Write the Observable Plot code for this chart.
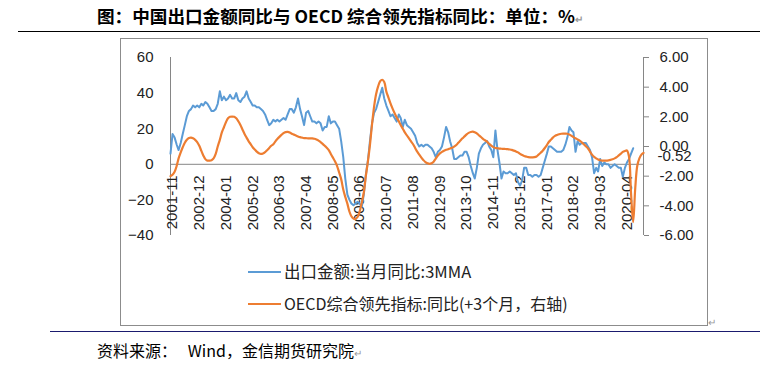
<!DOCTYPE html>
<html><head><meta charset="utf-8">
<script src="https://cdn.jsdelivr.net/npm/d3@7"></script>
<script src="https://cdn.jsdelivr.net/npm/@observablehq/plot@0.6"></script>
<style>
html,body{margin:0;padding:0;background:#fff;}
body{width:760px;height:369px;position:relative;overflow:hidden;font-family:"Noto Sans CJK SC",sans-serif;color:#000;}
.abs{position:absolute;white-space:nowrap;}
#title{left:97px;top:4px;font-weight:bold;font-size:17.6px;line-height:24px;}
#rule1{left:18px;top:31px;width:742px;height:0;border-top:1.5px solid #000;}
#box{left:120px;top:38px;width:586px;height:286px;border:1px solid #8c8c8c;}
#chart{left:120px;top:38px;}
.legline{height:0;width:33px;border-top:2px solid;}
.legtxt{font-size:16px;line-height:20px;color:#222;}
#rule2{left:50px;top:331px;width:710px;height:0;border-top:1px solid #1a1a6e;}
#caption{left:97px;top:340px;font-size:16px;line-height:20px;}
.mark{font-size:10px;color:#999;}
</style></head>
<body>
<div id="title" class="abs">图：中国出口金额同比与 OECD 综合领先指标同比：单位：%<span class="mark">↵</span></div>
<div id="rule1" class="abs"></div>
<div id="box" class="abs"></div>
<div id="chart" class="abs"></div>
<div class="abs legline" style="left:248px;top:271px;border-color:#5B9BD5"></div>
<div class="abs legtxt" id="leg1" style="left:284px;top:261px;font-size:16.5px">出口金额:当月同比:3MMA</div>
<div class="abs legline" style="left:248px;top:303px;border-color:#ED7D31"></div>
<div class="abs legtxt" id="leg2" style="left:284px;top:293px">OECD综合领先指标:同比(+3个月，右轴)</div>
<div class="abs mark" style="left:708px;top:314px">↵</div>
<div id="rule2" class="abs"></div>
<div id="caption" class="abs">资料来源：&nbsp;&nbsp; Wind，金信期货研究院<span class="mark">↵</span></div>
<script>
// Categories: monthly, 2001-11 .. 2021-01
const months = d3.utcMonth.range(new Date(Date.UTC(2001, 10, 1)), new Date(Date.UTC(2021, 1, 1)));
const xTickLabels = ["2001-11","2002-12","2004-01","2005-02","2006-03","2007-04","2008-05","2009-06","2010-07","2011-08","2012-09","2013-10","2014-11","2015-12","2017-01","2018-02","2019-03","2020-04"];
const leftTicks = [-40, -20, 0, 20, 40, 60];
const rightTicks = [-6, -4, -2, 0, 2, 4, 6];
const rightExtraLabel = "-0.52";

// 出口金额:当月同比:3MMA (left axis, %), 2001-11 .. 2020-08
const exportYoY3MMA = [
 6,17,15,11,8,12,17,22,27,30,
 31,33,32,33,32,34,33,35,34,32,
 30,30,31,34,41,36,38,36,37,39,
 37,37,40,36,35,37,38,41,37,35,
 33,33,32,32,31,30,28,25,22,23,
 25,24,25,24,25,26,25,28,31,31,
 29,32,37,31,27,22,29,30,27,24,
 24,23,24,23,19,21,21,27,23,24,
 24,22,20,13,4,-8,-17,-20,-22,-23,
 -22,-21,-22,-24,-17,-6,2,13,23,29,
 31,35,39,43,37,33,30,27,28,26,
 24,28,26,21,25,22,21,20,18,16,
 12,10,11,10,11,11,10,9,7,4,
 7,8,10,15,21,18,13,9,3,3,
 4,5,5,7,7,4,-1,-5,-8,-2,
 6,9,11,12,13,10,8,4,19,8,
 1,-8,-4,-5,-5,-4,-5,-6,-5,-10,
 -12,-9,-2,-2,-6,-6,-7,-6,-6,-7,
 -6,-2,2,6,10,10,9,8,7,7,
 7,8,11,15,21,19,18,7,13,11,
 12,12,12,10,8,4,-5,-2,-4,3,
 -1,1,0,0,-2,-1,0,-1,-2,-2,
 -7,-2,1,3,6,9
];

// OECD综合领先指标:同比(+3个月) (right axis), 2001-11 .. 2021-01
const oecdCliYoY = [
 -2.0,-1.9,-1.7,-1.3,-0.8,-0.4,-0.05,0.25,0.45,0.57,
 0.6,0.55,0.45,0.3,0.05,-0.3,-0.6,-0.85,-0.95,-0.95,
 -0.92,-0.8,-0.5,0.0,0.45,0.95,1.3,1.65,1.9,2.0,
 2.02,2.0,1.9,1.7,1.45,1.15,0.85,0.6,0.35,0.15,
 -0.05,-0.2,-0.35,-0.45,-0.5,-0.47,-0.38,-0.25,-0.1,0.05,
 0.15,0.35,0.5,0.65,0.78,0.9,0.97,0.99,0.95,0.86,
 0.8,0.74,0.68,0.63,0.6,0.57,0.56,0.55,0.55,0.55,
 0.52,0.47,0.4,0.3,0.18,0.05,-0.08,-0.25,-0.5,-0.75,
 -1.0,-1.3,-1.75,-2.2,-2.9,-3.4,-3.85,-4.4,-4.7,-4.86,
 -4.88,-4.75,-4.4,-3.8,-3.1,-2.0,-1.0,0.1,1.5,2.7,
 3.5,4.05,4.4,4.5,4.35,3.7,3.3,2.9,2.55,2.25,
 1.95,1.7,1.45,1.2,0.95,0.75,0.55,0.35,0.15,-0.1,
 -0.35,-0.55,-0.75,-0.92,-1.05,-1.13,-1.17,-1.13,-1.02,-0.82,
 -0.62,-0.46,-0.36,-0.28,-0.22,-0.18,-0.13,-0.08,0.0,0.1,
 0.25,0.4,0.55,0.68,0.82,0.92,0.98,1.0,0.96,0.88,
 0.76,0.64,0.52,0.42,0.32,0.18,0.06,-0.04,-0.1,-0.12,
 -0.14,-0.15,-0.16,-0.17,-0.18,-0.2,-0.23,-0.28,-0.33,-0.4,
 -0.5,-0.58,-0.64,-0.68,-0.72,-0.73,-0.73,-0.72,-0.67,-0.55,
 -0.42,-0.28,-0.1,0.1,0.3,0.45,0.6,0.72,0.78,0.83,
 0.86,0.87,0.87,0.86,0.8,0.72,0.63,0.55,0.48,0.4,
 0.28,0.15,0.02,-0.12,-0.35,-0.55,-0.7,-0.8,-0.88,-0.93,
 -0.95,-0.95,-0.95,-0.93,-0.9,-0.86,-0.8,-0.72,-0.6,-0.48,
 -0.36,-0.3,-0.27,-0.7,-3.2,-5.1,-2.8,-1.3,-0.8,-0.55,-0.43
];

const yMin = leftTicks[0], yMax = leftTicks[leftTicks.length - 1];
const rMin = rightTicks[0], rMax = rightTicks[rightTicks.length - 1];
const toLeft = v => yMin + (v - rMin) * (yMax - yMin) / (rMax - rMin);
const toRight = l => rMin + (l - yMin) * (rMax - rMin) / (yMax - yMin);
const parseMonth = s => d3.utcParse("%Y-%m")(s);
const x0 = months[0], x1 = months[months.length - 1];
const axisColor = "#868686";

const chart = Plot.plot({
  width: 587,
  height: 212,
  marginLeft: 50,
  marginRight: 64,
  marginTop: 19,
  marginBottom: 15,
  style: {fontFamily: "Liberation Sans, Arial, sans-serif", fontSize: "15px", color: "#222", background: "transparent", overflow: "visible"},
  x: {type: "utc", domain: [x0, x1], axis: null},
  y: {domain: [yMin, yMax], axis: null},
  marks: [
    Plot.ruleY([0], {stroke: axisColor, strokeWidth: 1}),
    Plot.ruleX([x0], {y1: yMin, y2: yMax, stroke: axisColor}),
    Plot.ruleX([x1], {y1: yMin, y2: yMax, stroke: axisColor}),
    Plot.axisY({anchor: "left", ticks: leftTicks, tickSize: 0, tickPadding: 17, label: null, fill: "#222", fontSize: 15}),
    Plot.axisY({anchor: "right", ticks: rightTicks.map(toLeft), tickFormat: d => toRight(d).toFixed(2).replace("-0.00","0.00"), tickSize: 5, tickPadding: 11, stroke: axisColor, label: null, fill: "#222", fontSize: 15}),
    Plot.text([rightExtraLabel], {x: x1, y: toLeft(+rightExtraLabel), text: d => d, textAnchor: "start", dx: 14, dy: 2, fill: "#222", fontSize: 15}),
    Plot.text(xTickLabels, {x: d => parseMonth(d), y: 0, text: d => d, rotate: -90, textAnchor: "end", dx: 2, dy: 11, fill: "#222", fontSize: 15}),
    Plot.line(exportYoY3MMA, {x: (d, i) => months[i], y: d => d, stroke: "#5B9BD5", strokeWidth: 2, curve: "linear"}),
    Plot.line(oecdCliYoY, {x: (d, i) => months[i], y: d => toLeft(d), stroke: "#ED7D31", strokeWidth: 2.2, curve: "catmull-rom"})
  ]
});
document.getElementById("chart").appendChild(chart);
</script>
</body></html>
